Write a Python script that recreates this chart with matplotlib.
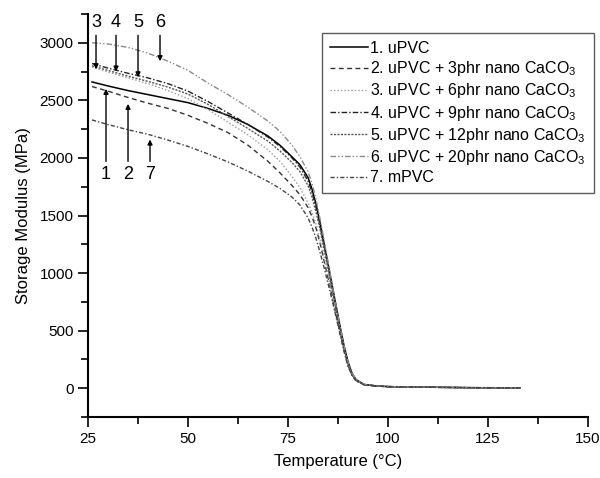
import matplotlib
matplotlib.use("Agg")
import matplotlib.pyplot as plt
from matplotlib.ticker import MultipleLocator

plt.rcParams['font.family'] = ['Liberation Sans', 'DejaVu Sans']
plt.rcParams['mathtext.default'] = 'regular'

# temperature grid (degC) shared by all curves
temp = [26, 30, 35, 40, 45, 50, 55, 60, 65, 70, 73, 76, 78, 80, 81, 82, 83, 84, 85, 86,
        87, 88, 89, 90, 91, 92, 94, 97, 100, 110, 120, 133]

# storage modulus (MPa)
upvc = [2660, 2625, 2585, 2550, 2515, 2480, 2430, 2370, 2290, 2190, 2110, 2010, 1940, 1830, 1730, 1600,
        1440, 1260, 1080, 900, 720, 540, 370, 230, 130, 75, 32, 20, 14, 9, 5, 3]
nano3 = [2620, 2580, 2525, 2475, 2430, 2370, 2300, 2220, 2110, 1970, 1870, 1760, 1680, 1570, 1490, 1390,
         1260, 1110, 960, 800, 640, 480, 330, 200, 115, 68, 32, 20, 14, 9, 5, 3]
nano6 = [2790, 2745, 2695, 2645, 2585, 2515, 2420, 2310, 2200, 2070, 1970, 1840, 1740, 1610, 1530, 1420,
         1290, 1140, 980, 810, 640, 480, 330, 200, 115, 68, 32, 20, 14, 9, 5, 3]
nano9 = [2820, 2780, 2735, 2695, 2645, 2580, 2490, 2390, 2290, 2180, 2100, 2000, 1920, 1800, 1700, 1570,
         1410, 1240, 1060, 880, 700, 520, 360, 220, 125, 72, 32, 20, 14, 9, 5, 3]
nano12 = [2800, 2760, 2710, 2665, 2615, 2555, 2465, 2360, 2255, 2145, 2060, 1960, 1880, 1760, 1660, 1530,
          1380, 1210, 1040, 860, 690, 510, 350, 215, 122, 70, 32, 20, 14, 9, 5, 3]
nano20 = [3000, 2990, 2960, 2910, 2840, 2760, 2650, 2550, 2440, 2320, 2230, 2110, 2010, 1880, 1780, 1640,
          1470, 1290, 1100, 910, 720, 540, 370, 230, 130, 75, 35, 20, 14, 9, 5, 3]
mpvc = [2330, 2290, 2245, 2205, 2155, 2100, 2035, 1965, 1885, 1795, 1735, 1660, 1590, 1480, 1400, 1300,
        1180, 1050, 910, 770, 620, 470, 320, 190, 110, 62, 30, 19, 13, 8, 5, 3]

labels = ['1. uPVC',
          '2. uPVC + 3phr nano CaCO$_3$',
          '3. uPVC + 6phr nano CaCO$_3$',
          '4. uPVC + 9phr nano CaCO$_3$',
          '5. uPVC + 12phr nano CaCO$_3$',
          '6. uPVC + 20phr nano CaCO$_3$',
          '7. mPVC']

# curve number labels with arrow tips: (text, T, tip modulus)
marks_top = [('3', 27.0, 2770), ('4', 32.0, 2750), ('5', 37.5, 2700), ('6', 43.0, 2840)]
marks_bottom = [('1', 29.5, 2600), ('2', 35.0, 2470), ('7', 40.5, 2160)]

fig = plt.figure(figsize=(6.0, 4.78), dpi=100)
ax = fig.add_axes([0.1467, 0.1276, 0.8333, 0.8431])

ax.plot(temp, upvc, color='black', lw=1.1, ls='-', label=labels[0])
ax.plot(temp, nano3, color='#333333', lw=1.0, ls=(0, (3.5, 2.5)), label=labels[1])
ax.plot(temp, nano6, color='#9a9a9a', lw=1.0, ls=(0, (1, 1.5)), label=labels[2])
ax.plot(temp, nano9, color='#222222', lw=1.0, ls=(0, (4, 1.5, 1, 1.5)), label=labels[3])
ax.plot(temp, nano12, color='#555555', lw=1.0, ls=(0, (1.5, 1)), label=labels[4])
ax.plot(temp, nano20, color='#8a8a8a', lw=1.0, ls=(0, (4, 1.5, 1, 1.5, 1, 1.5)), label=labels[5])
ax.plot(temp, mpvc, color='#444444', lw=1.0, ls=(0, (3, 1.5, 1, 1.5)), label=labels[6])

arrow = dict(arrowstyle='-|>', color='black', lw=1.0, mutation_scale=7, shrinkA=1, shrinkB=0)
for txt, t, tip in marks_top:
    ax.annotate(txt, xy=(t, tip), xytext=(t, 3175), ha='center', va='center',
                fontsize=13, arrowprops=arrow, annotation_clip=False)
for txt, t, tip in marks_bottom:
    ax.annotate(txt, xy=(t, tip), xytext=(t, 1860), ha='center', va='center',
                fontsize=13, arrowprops=arrow)

ax.set_xlim(25, 150)
ax.set_ylim(-250, 3250)
ax.xaxis.set_major_locator(MultipleLocator(25))
ax.xaxis.set_minor_locator(MultipleLocator(12.5))
ax.yaxis.set_major_locator(MultipleLocator(500))
ax.yaxis.set_minor_locator(MultipleLocator(250))
ax.set_yticks([0, 500, 1000, 1500, 2000, 2500, 3000])
ax.tick_params(which='major', direction='out', length=7, width=1.2, labelsize=11)
ax.tick_params(which='minor', direction='out', length=5, width=1.2)
ax.spines['top'].set_visible(False)
ax.spines['right'].set_visible(False)
ax.spines['left'].set_linewidth(1.5)
ax.spines['bottom'].set_linewidth(1.5)

ax.set_xlabel('Temperature (°C)', fontsize=12, labelpad=6)
ax.set_ylabel('Storage Modulus (MPa)', fontsize=12, labelpad=6)

leg = ax.legend(loc='upper right', bbox_to_anchor=(0.99, 0.931), bbox_transform=fig.transFigure,
                fontsize=11.5, frameon=True, fancybox=False, handlelength=2.4, handletextpad=0.15,
                labelspacing=0.2, borderpad=0.5, borderaxespad=0)
leg.get_frame().set_edgecolor('#333333')
leg.get_frame().set_linewidth(1.0)

fig.savefig('out.png', dpi=100)
